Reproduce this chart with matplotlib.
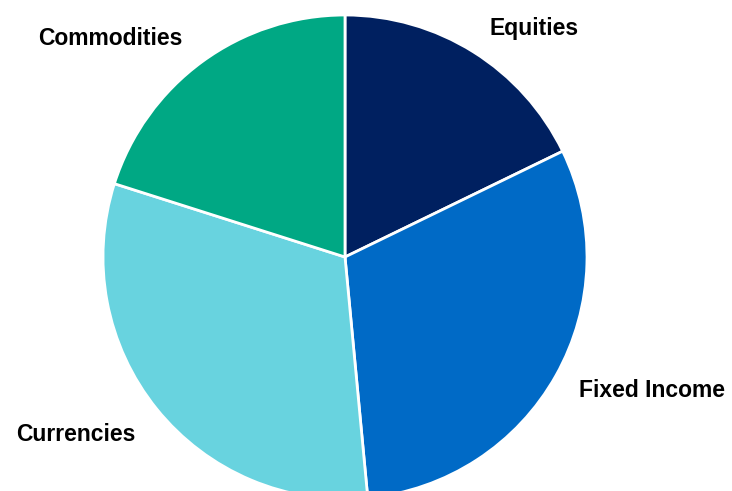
import matplotlib
matplotlib.use("Agg")
import matplotlib.pyplot as plt

categories = ["Equities", "Fixed Income", "Currencies", "Commodities"]
values = [17.8, 30.7, 31.4, 20.1]
colors = ["#002060", "#006AC6", "#68D3DF", "#00A884"]

W, H = 732, 491
fig = plt.figure(figsize=(W / 100, H / 100), dpi=100)
cx, cy, r = 345, 257, 242
ax = fig.add_axes([(cx - r) / W, (H - cy - r) / H, 2 * r / W, 2 * r / H])
ax.pie(values, colors=colors, startangle=90, counterclock=False,
       wedgeprops=dict(edgecolor="white", linewidth=2), radius=1.0)
ax.set_xlim(-1, 1)
ax.set_ylim(-1, 1)
ax.set_aspect("equal")
ax.axis("off")

label_pos = {
    "Equities": (534, 35),
    "Fixed Income": (652, 397),
    "Currencies": (76, 441),
    "Commodities": (110, 45),
}
for name in categories:
    x, y = label_pos[name]
    fig.text(x / W, 1 - y / H, name, ha="center", va="baseline",
             fontsize=16.5, fontweight="bold", family="Liberation Sans", color="black")

fig.savefig("out.png", dpi=100)
